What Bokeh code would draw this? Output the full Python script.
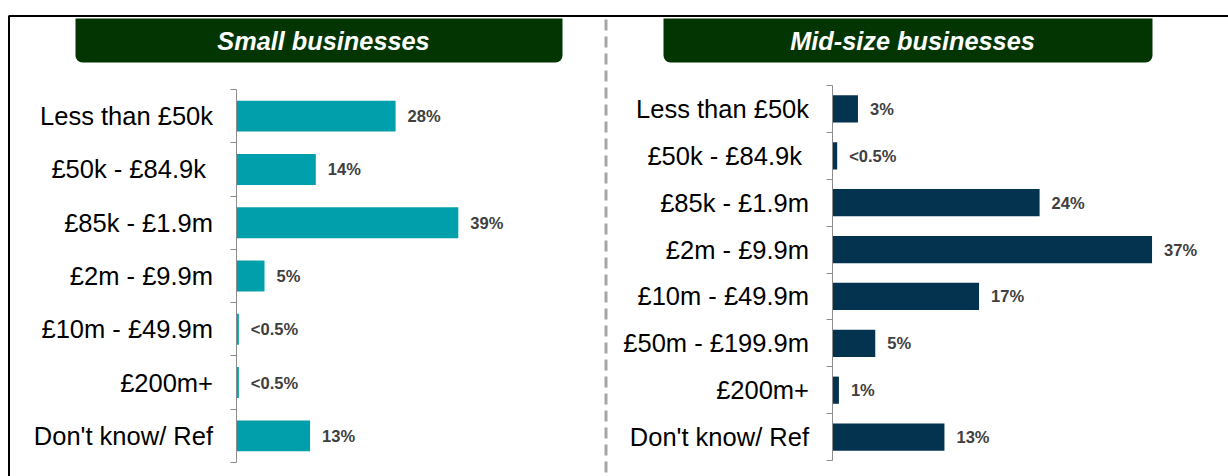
from bokeh.plotting import figure
from bokeh.models import (Range1d, FixedTicker, BoxAnnotation, LinearAxis,
                          ColumnDataSource, Label)
from bokeh.core.properties import value
from bokeh.embed import file_html
from bokeh.resources import INLINE

# ---- data ----
small_title = "Small businesses"
small_cats = ["Less than £50k", "£50k - £84.9k\u00a0", "£85k - £1.9m", "£2m - £9.9m",
              "£10m - £49.9m", "£200m+", "Don't know/ Ref"]
small_vals = [28, 14, 39, 5, 0.5, 0.5, 13]
small_labels = ["28%", "14%", "39%", "5%", "<0.5%", "<0.5%", "13%"]

mid_title = "Mid-size businesses"
mid_cats = ["Less than £50k", "£50k - £84.9k\u00a0", "£85k - £1.9m", "£2m - £9.9m",
            "£10m - £49.9m", "£50m - £199.9m", "£200m+", "Don't know/ Ref"]
mid_vals = [3, 0.6, 24, 37, 17, 5, 0.8, 13]
mid_labels = ["3%", "<0.5%", "24%", "37%", "17%", "5%", "1%", "13%"]

# ---- layout / style constants (canvas pixels) ----
W, H = 1228, 476
FONT = "Liberation Sans"
TITLE_BG = "#023502"
SMALL_COLOR = "#009FAC"
MID_COLOR = "#04334F"

p = figure(width=W, height=H, x_range=Range1d(0, W), y_range=Range1d(H, 0),
           output_backend="svg", toolbar_location=None,
           min_border=0, x_axis_location=None, y_axis_location=None)
p.outline_line_color = None
p.grid.visible = False
p.background_fill_color = "white"
p.border_fill_color = "white"

# outer frame lines and dashed divider
p.line(x=[8.5, 8.5, W], y=[H, 15.5, 15.5], line_color="black", line_width=2)
p.line(x=[605.5, 605.5], y=[19, H], line_color="#a6a6a6", line_width=3,
       line_dash="11 6")


def panel(name, title, cats, vals, labels, color, x0_px, px_per_pct,
          top_px, bottom_px, standoff, box, title_x):
    n = len(cats)
    step = (bottom_px - top_px) / n
    xr = Range1d(-x0_px / px_per_pct, (W - x0_px) / px_per_pct)
    yr = Range1d(-0.5 + (H - top_px) / step, -0.5 - top_px / step)
    p.extra_x_ranges[name + "_x"] = xr
    p.extra_y_ranges[name + "_y"] = yr
    kw = dict(x_range_name=name + "_x", y_range_name=name + "_y")

    src = ColumnDataSource(dict(y=list(range(n)), v=vals, lab=labels))
    p.hbar(y="y", right="v", left=0, height=0.58, source=src,
           fill_color=color, line_color=None, **kw)
    p.text(x="v", y="y", text="lab", source=src, x_offset=12,
           text_font=value(FONT), text_font_size="16.5px", text_font_style="bold",
           text_color="#404040", text_baseline="middle", text_align="left", **kw)

    ax = LinearAxis(fixed_location=0, bounds=(-0.5, n - 0.5), **kw)
    ax.ticker = FixedTicker(ticks=list(range(n)),
                            minor_ticks=[i - 0.5 for i in range(n + 1)])
    ax.major_label_overrides = {i: c for i, c in enumerate(cats)}
    ax.major_label_text_font = FONT
    ax.major_label_text_font_size = "25.5px"
    ax.major_label_text_color = "#000000"
    ax.major_label_standoff = standoff
    ax.axis_line_color = "#8c8c8c"
    ax.major_tick_line_color = None
    ax.major_tick_out = 0
    ax.major_tick_in = 0
    ax.minor_tick_line_color = "#8c8c8c"
    ax.minor_tick_out = 6
    ax.minor_tick_in = 0
    p.add_layout(ax, "left")

    bl, br, bt, bb = box
    p.add_layout(BoxAnnotation(left=bl, right=br, top=bt, bottom=bb,
                               fill_color=TITLE_BG, fill_alpha=1.0, line_color=None,
                               border_radius=dict(top_left=0, top_right=0,
                                                  bottom_right=7, bottom_left=7)))
    p.add_layout(Label(x=title_x, y=(bt + bb) / 2, text=title,
                       text_font=FONT, text_font_size="25.3px",
                       text_font_style="bold italic", text_color="white",
                       text_align="center", text_baseline="middle"))


panel("small", small_title, small_cats, small_vals, small_labels, SMALL_COLOR,
      235.5, 5.7, 89, 462, 17, (75, 562, 18, 62), 323)
panel("mid", mid_title, mid_cats, mid_vals, mid_labels, MID_COLOR,
      831.5, 8.65, 85, 460, 17, (663, 1152, 18, 62), 912)

open("out.html", "w").write(file_html(p, INLINE))
